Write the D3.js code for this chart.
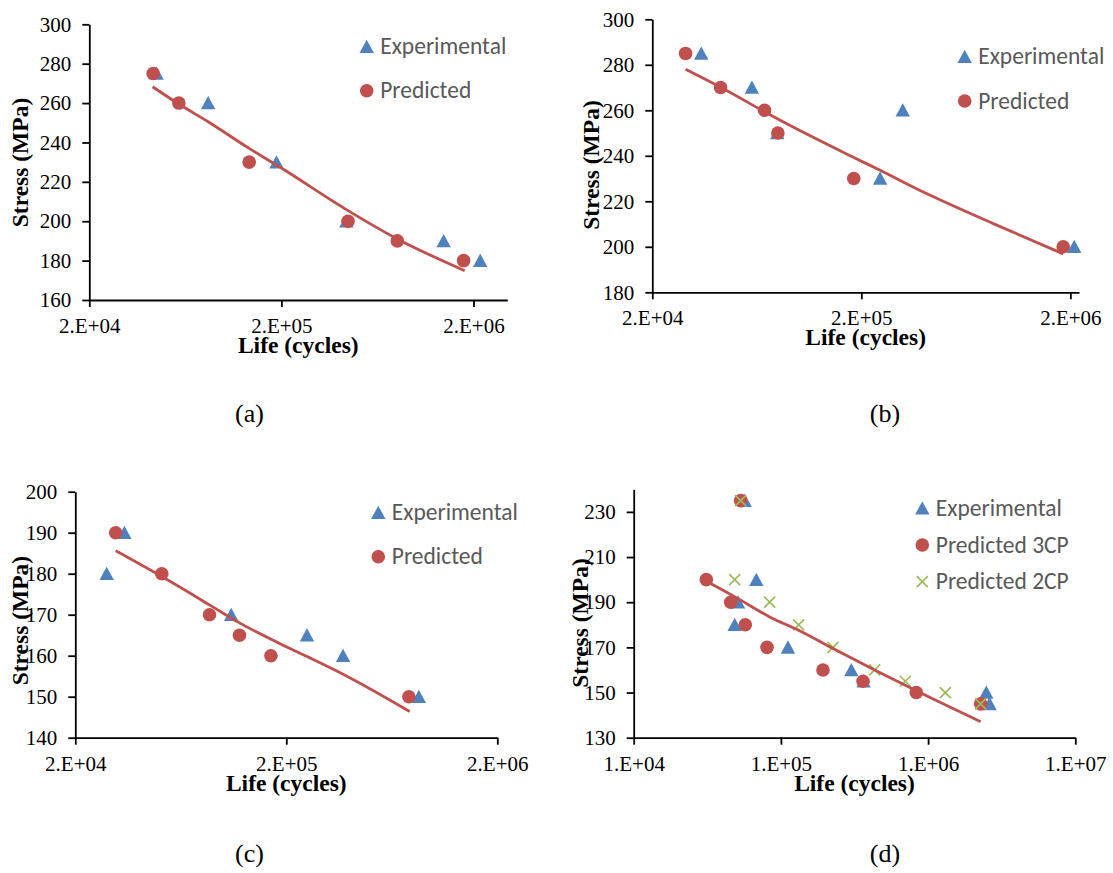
<!DOCTYPE html>
<html>
<head>
<meta charset="utf-8">
<script src="https://cdn.jsdelivr.net/npm/d3@7/dist/d3.min.js"></script>
<style>
  body { margin: 0; background: #fff; }
  svg { display: block; }
</style>
</head>
<body>
<svg id="fig" width="1113" height="873"></svg>
<script>
// ---- panel (a) ----
const aExpLife = [44800, 83100, 188600, 435800, 1399000, 2168000];
const aExpStress = [275, 260, 230, 200, 190, 180];
const aPredLife = [43000, 58500, 135900, 444600, 803000, 1777000];
const aPredStress = [275, 260, 230, 200, 190, 180];
const aFitLife = [42700, 58500, 83100, 135900, 200000, 444600, 803000, 1800000];
const aFitStress = [268.3, 259.5, 250.5, 237, 227, 205.4, 191, 174.9];

// ---- panel (b) ----
const bExpLife = [34300, 59900, 79200, 246000, 315700, 2088000];
const bExpStress = [285, 270, 250, 230, 260, 200];
const bPredLife = [28850, 42430, 68850, 79760, 184000, 1849000];
const bPredStress = [285, 270, 260, 250, 230, 200];
const bFitLife = [28850, 42430, 68850, 79760, 184000, 246000, 408000, 849700, 1849000];
const bFitStress = [278, 270.1, 259.4, 256.2, 239.3, 233.6, 223.5, 210.3, 196.9];

// ---- panel (c) ----
const cExpLife = [28170, 34180, 109600, 250700, 371600, 849600];
const cExpStress = [180, 190, 170, 165, 160, 150];
const cPredLife = [31070, 51400, 86500, 120000, 169100, 761900];
const cPredStress = [190, 180, 170, 165, 160, 150];
const cFitLife = [31070, 51400, 86500, 120000, 200000, 250700, 371600, 769000];
const cFitStress = [185.6, 179.3, 172.4, 168.0, 162.2, 159.8, 155.5, 146.4];

// ---- panel (d) ----
const dExpLife = [56750, 48530, 51140, 68080, 111700, 300900, 364800, 2485000, 2617000];
const dExpStress = [235, 180, 190, 200, 170, 160, 155, 150, 145];
const d3cpLife = [53300, 31150, 45600, 57300, 80500, 193100, 361300, 831500, 2275000];
const d3cpStress = [235, 200, 190, 180, 170, 160, 155, 150, 145];
const d2cpLife = [53300, 48530, 83900, 132000, 225800, 433500, 700000, 1309000, 2275000];
const d2cpStress = [235, 200, 190, 180, 170, 160, 155, 150, 145];
const dFitLife = [31150, 51140, 83900, 132000, 225800, 433500, 831500, 2275000];
const dFitStress = [199.3, 191.6, 183.5, 177.6, 169.5, 160, 150.8, 137.1];

// ---- axes ----
const abcLifeTicks = [2e4, 2e5, 2e6];
const abcLifeLabels = ["2.E+04", "2.E+05", "2.E+06"];
const dLifeTicks = [1e4, 1e5, 1e6, 1e7];
const dLifeLabels = ["1.E+04", "1.E+05", "1.E+06", "1.E+07"];
const aStressTicks = [160, 180, 200, 220, 240, 260, 280, 300];
const bStressTicks = [180, 200, 220, 240, 260, 280, 300];
const cStressTicks = [140, 150, 160, 170, 180, 190, 200];
const dStressTicks = [130, 150, 170, 190, 210, 230];

const blue = "#4F81BD", red = "#C0504D", green = "#9BBB59";
const serifFont = "'Liberation Serif', 'Times New Roman', serif";
const sansFont = "Carlito, Calibri, 'Open Sans', sans-serif";

const svg = d3.select("#fig");

function drawMarker(g, type, x, y) {
  if (type === "tri") {
    g.append("path")
      .attr("d", "M0,-7L7.2,6.3L-7.2,6.3Z")
      .attr("transform", `translate(${x},${y})`)
      .attr("fill", blue);
  } else if (type === "dot") {
    g.append("circle").attr("cx", x).attr("cy", y).attr("r", 6.8).attr("fill", red);
  } else {
    g.append("path")
      .attr("d", "M-5.5,-5.5L5.5,5.5M-5.5,5.5L5.5,-5.5")
      .attr("transform", `translate(${x},${y})`)
      .attr("stroke", green).attr("stroke-width", 1.7).attr("fill", "none");
  }
}

function drawPanel(p) {
  const g = svg.append("g");
  const x = d3.scaleLog().domain(p.xDomain).range([p.left, p.right]);
  const y = d3.scaleLinear().domain(p.yDomain).range([p.bottom, p.top]);

  const xAxis = g.append("g")
    .attr("transform", `translate(0,${p.bottom})`)
    .call(d3.axisBottom(x).tickValues(p.xTicks)
      .tickFormat((d, i) => p.xLabels[i]).tickSize(7).tickSizeOuter(0).tickPadding(11));
  const yAxis = g.append("g")
    .attr("transform", `translate(${p.left},0)`)
    .call(d3.axisLeft(y).tickValues(p.yTicks).tickSize(7).tickSizeOuter(0).tickPadding(11));

  [xAxis, yAxis].forEach(ax => {
    ax.attr("font-size", 21);
    ax.selectAll("path, line").attr("stroke", "#000").attr("stroke-width", 1.8);
    ax.selectAll("text").attr("fill", "#000").style("font-family", serifFont);
  });

  // points
  p.series.forEach(s => {
    s.life.forEach((v, i) => drawMarker(g, s.type, x(v), y(s.stress[i])));
  });

  // trend line
  const line = d3.line().x(d => x(d[0])).y(d => y(d[1])).curve(d3.curveMonotoneX);
  g.append("path")
    .datum(p.fitLife.map((v, i) => [v, p.fitStress[i]]))
    .attr("d", line)
    .attr("fill", "none").attr("stroke", red).attr("stroke-width", 2.8);

  // legend
  p.series.forEach((s, i) => {
    const ly = p.legY + i * p.legGap;
    drawMarker(g, s.type, p.legX, ly);
    g.append("text").attr("x", p.legX + 13.5).attr("y", ly + 7.5)
      .style("font-family", sansFont).attr("font-size", 23.5).attr("fill", "#595959")
      .text(s.name);
  });

  // axis titles
  g.append("text")
    .attr("x", (p.left + p.right) / 2).attr("y", p.bottom + 53)
    .attr("text-anchor", "middle").style("font-family", serifFont)
    .attr("font-weight", "bold").attr("font-size", 23.5)
    .text("Life (cycles)");
  g.append("text")
    .attr("transform", `translate(${p.left - p.yTitleOff},${p.yTitleY}) rotate(-90)`)
    .attr("text-anchor", "middle").attr("dy", "0.35em").style("font-family", serifFont)
    .attr("font-weight", "bold").attr("font-size", 23.5)
    .text("Stress (MPa)");

  // panel tag
  g.append("text")
    .attr("x", p.tagX).attr("y", p.tagY)
    .attr("text-anchor", "middle").style("font-family", serifFont).attr("font-size", 26)
    .text(p.tag);
}

drawPanel({
  left: 89.3, right: 507.3, top: 24.3, bottom: 300,
  xDomain: [2e4, 3e6], yDomain: [160, 300],
  xTicks: abcLifeTicks, xLabels: abcLifeLabels, yTicks: aStressTicks,
  series: [
    { name: "Experimental", type: "tri", life: aExpLife, stress: aExpStress },
    { name: "Predicted", type: "dot", life: aPredLife, stress: aPredStress }
  ],
  fitLife: aFitLife, fitStress: aFitStress,
  legX: 366.7, legY: 46.7, legGap: 44,
  yTitleOff: 70, yTitleY: 162.5,
  tag: "(a)", tagX: 249.5, tagY: 422
});

drawPanel({
  left: 652.3, right: 1079, top: 19.3, bottom: 292.3,
  xDomain: [2e4, 2.2e6], yDomain: [180, 300],
  xTicks: abcLifeTicks, xLabels: abcLifeLabels, yTicks: bStressTicks,
  series: [
    { name: "Experimental", type: "tri", life: bExpLife, stress: bExpStress },
    { name: "Predicted", type: "dot", life: bPredLife, stress: bPredStress }
  ],
  fitLife: bFitLife, fitStress: bFitStress,
  legX: 964.7, legY: 56.7, legGap: 44.3,
  yTitleOff: 61.3, yTitleY: 165,
  tag: "(b)", tagX: 885, tagY: 422
});

drawPanel({
  left: 75.3, right: 497.3, top: 491.7, bottom: 737.7,
  xDomain: [2e4, 2e6], yDomain: [140, 200],
  xTicks: abcLifeTicks, xLabels: abcLifeLabels, yTicks: cStressTicks,
  series: [
    { name: "Experimental", type: "tri", life: cExpLife, stress: cExpStress },
    { name: "Predicted", type: "dot", life: cPredLife, stress: cPredStress }
  ],
  fitLife: cFitLife, fitStress: cFitStress,
  legX: 378.3, legY: 512.7, legGap: 44,
  yTitleOff: 55.5, yTitleY: 620.6,
  tag: "(c)", tagX: 249.5, tagY: 862
});

drawPanel({
  left: 633.7, right: 1075.3, top: 489.3, bottom: 737.7,
  xDomain: [1e4, 1e7], yDomain: [130, 240],
  xTicks: dLifeTicks, xLabels: dLifeLabels, yTicks: dStressTicks,
  series: [
    { name: "Experimental", type: "tri", life: dExpLife, stress: dExpStress },
    { name: "Predicted 3CP", type: "dot", life: d3cpLife, stress: d3cpStress },
    { name: "Predicted 2CP", type: "cross", life: d2cpLife, stress: d2cpStress }
  ],
  fitLife: dFitLife, fitStress: dFitStress,
  legX: 922.3, legY: 508.3, legGap: 36.7,
  yTitleOff: 54.3, yTitleY: 623,
  tag: "(d)", tagX: 885, tagY: 862
});
</script>
</body>
</html>
